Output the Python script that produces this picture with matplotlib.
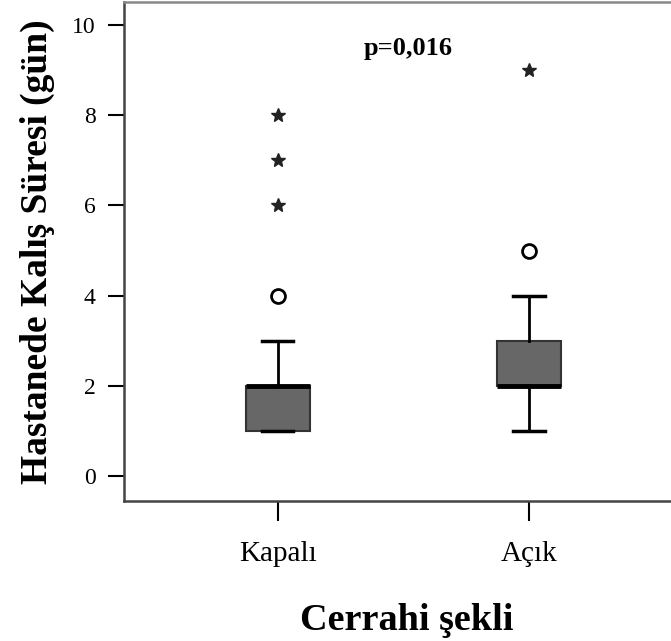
import matplotlib
matplotlib.use("Agg")
import matplotlib.pyplot as plt

# ---- data ----
categories = ["Kapalı", "Açık"]
q1 = [1, 2]
median = [2, 2]
q3 = [2, 3]
whislo = [1, 1]
whishi = [3, 4]
outliers = [[4], [5]]          # circles
extremes = [[6, 7, 8], [9]]    # stars
yticks = [0, 2, 4, 6, 8, 10]
p_text = "p=0,016"

positions = [1, 2]

fig = plt.figure(figsize=(6.71, 6.41), dpi=100)
ax = fig.add_axes([124/671, (641-501)/641, 1 - 124/671 + 0.002, (501-1.5)/641])

stats = []
for i in range(len(categories)):
    stats.append(dict(med=median[i], q1=q1[i], q3=q3[i], whislo=whislo[i],
                      whishi=whishi[i], fliers=[], label=categories[i]))

ax.bxp(stats, positions=positions, widths=0.254, patch_artist=True,
       showfliers=False,
       boxprops=dict(facecolor="#676767", edgecolor="#333333", linewidth=1.5),
       medianprops=dict(color="black", linewidth=3.5, solid_capstyle="butt"),
       whiskerprops=dict(color="black", linewidth=2),
       capprops=dict(color="black", linewidth=2.5),
       capwidths=0.125)

for i, pos in enumerate(positions):
    ax.plot([pos]*len(outliers[i]), outliers[i], linestyle="none", marker="o",
            markersize=10, markerfacecolor="white", markeredgecolor="black",
            markeredgewidth=2)
    ax.plot([pos]*len(extremes[i]), extremes[i], linestyle="none", marker="*",
            markersize=10, color="#222222")

ax.set_xlim(0.389, 2.57)
ax.set_ylim(-0.55, 10.52)
ax.set_yticks(yticks)
ax.set_yticklabels([str(v) for v in yticks], fontsize=17, family="Liberation Serif")
ax.set_xticks(positions)
ax.set_xticklabels(categories, fontsize=21, family="Liberation Serif")

ax.tick_params(axis="y", length=11.5, width=1.5, pad=9)
ax.tick_params(axis="x", length=14.5, width=1.5, pad=14)

for s in ["left", "bottom", "top"]:
    ax.spines[s].set_linewidth(1.8)
    ax.spines[s].set_color("#444444")
ax.spines["top"].set_color("#888888")
ax.spines["right"].set_visible(False)

ax.set_ylabel("Hastanede Kalış Süresi (gün)", fontsize=27, fontweight="bold",
              family="Liberation Serif", labelpad=12)
ax.set_xlabel("Cerrahi şekli", fontsize=27.5, fontweight="bold",
              family="Liberation Serif", labelpad=26)
ax.xaxis.set_label_coords(0.515, -0.205)

ax.text(1.52, 9.47, p_text, fontsize=19, fontweight="bold", family="Liberation Serif",
        ha="center", va="center")

fig.savefig("out.png", dpi=100)
